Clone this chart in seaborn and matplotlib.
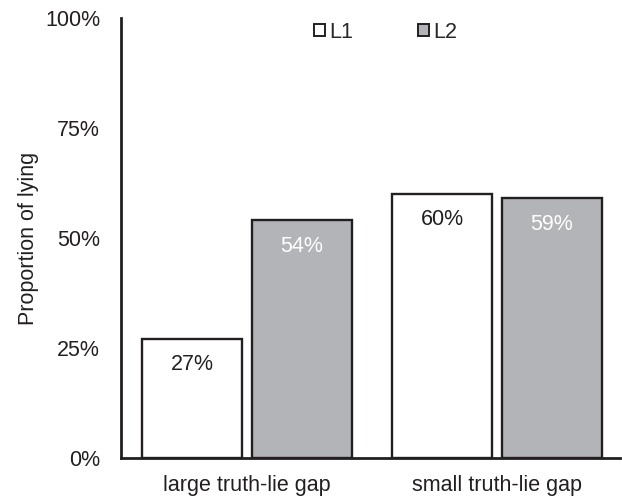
import pandas as pd
import matplotlib.pyplot as plt
import seaborn as sns
from matplotlib.ticker import PercentFormatter
from matplotlib.patches import Patch

categories = ['large truth-lie gap', 'small truth-lie gap']
groups = ['L1', 'L2']
l1_values = [27, 60]
l2_values = [54, 59]

df = pd.DataFrame({
    'gap': categories * 2,
    'group': ['L1'] * 2 + ['L2'] * 2,
    'value': l1_values + l2_values,
})

sns.set_theme(style='white')
plt.rcParams['font.family'] = ['Liberation Sans', 'DejaVu Sans']

edge = '#231f20'
palette = {'L1': '#ffffff', 'L2': '#b3b4b7'}
fs = 15.5

fig = plt.figure(figsize=(6.22, 4.96), dpi=100)
ax = fig.add_axes([0.1945, 0.0766, 0.8025, 0.8871])

sns.barplot(data=df, x='gap', y='value', hue='group', hue_order=groups,
            palette=palette, width=0.876, gap=0.09, edgecolor=edge,
            linewidth=1.7, legend=False, ax=ax)

ax.set_ylim(0, 100)
ax.set_xlim(-0.504, 1.492)
ax.set_yticks([0, 25, 50, 75, 100])
ax.yaxis.set_major_formatter(PercentFormatter(decimals=0))
ax.tick_params(axis='both', length=0, labelsize=fs, colors='#231f20')
ax.tick_params(axis='y', pad=15)
ax.tick_params(axis='x', pad=12)
ax.set_xlabel('')
ax.set_ylabel('Proportion of lying', fontsize=fs, color='#231f20', labelpad=4)

for s in ['top', 'right']:
    ax.spines[s].set_visible(False)
for s in ['left', 'bottom']:
    ax.spines[s].set_color(edge)
    ax.spines[s].set_linewidth(2)

# value labels inside top of bars
for cont, grp in zip(ax.containers, groups):
    color = '#231f20' if grp == 'L1' else 'white'
    ax.bar_label(cont, labels=[f'{v:.0f}%' for v in cont.datavalues],
                 padding=-26, color=color, fontsize=fs)

handles = [Patch(facecolor=palette[g], edgecolor=edge, linewidth=1.4) for g in groups]
ax.legend(handles, groups, loc='upper center', bbox_to_anchor=(0.53, 1.035),
          ncol=2, frameon=False, fontsize=fs, handlelength=0.5, handleheight=0.5,
          handletextpad=0.2, columnspacing=3.0)

fig.savefig('out.png', dpi=100)
